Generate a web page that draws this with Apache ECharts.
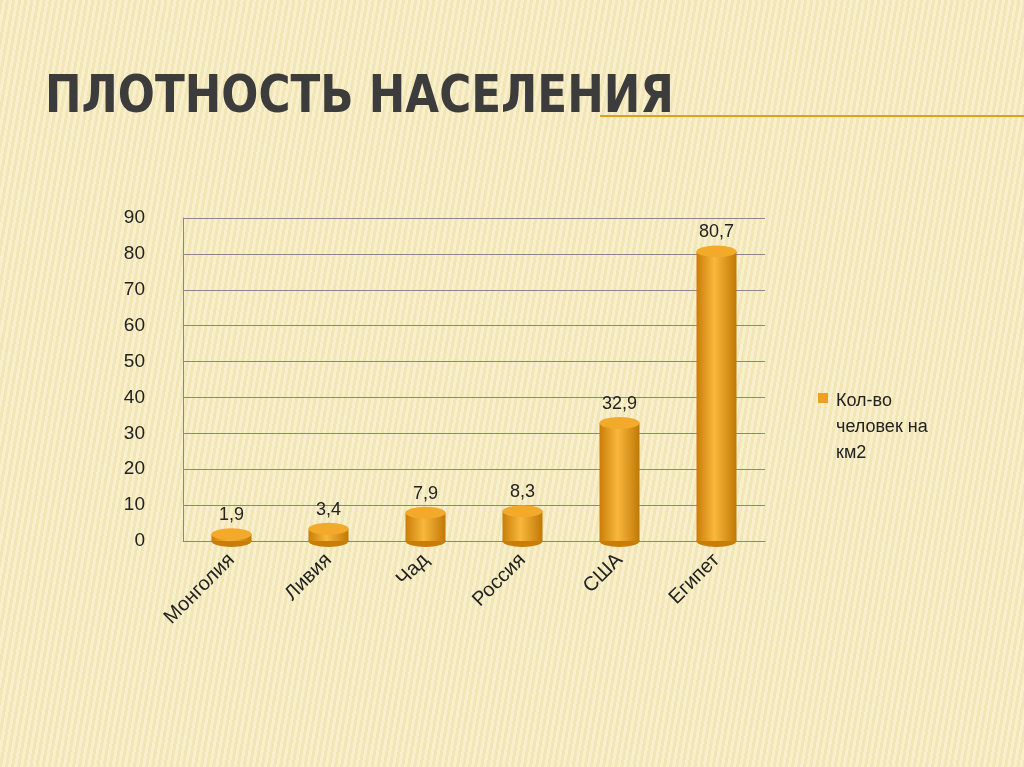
<!DOCTYPE html>
<html><head><meta charset="utf-8">
<script src="https://cdn.jsdelivr.net/npm/echarts@6/dist/echarts.min.js"></script>
<style>
html,body{margin:0;padding:0;}
body{width:1024px;height:767px;background:repeating-linear-gradient(100deg,#f3e6b6 0px,#f3e6b6 3px,#f8efcc 3px,#f8efcc 6px);}
#c{width:1024px;height:767px;}
</style></head><body><div id="c"></div>
<script>
const categories=['Монголия','Ливия','Чад','Россия','США','Египет'];
const values=[1.9,3.4,7.9,8.3,32.9,80.7];
const yTicks=[0,10,20,30,40,50,60,70,80,90];
const seriesName='Кол-во человек на км2';
const chart=echarts.init(document.getElementById('c'));
const grad=new echarts.graphic.LinearGradient(0,0,1,0,[{offset:0,color:'#c97d08'},{offset:0.45,color:'#f8b83c'},{offset:1,color:'#c17806'}]);
chart.setOption({
 graphic:[
  {type:'text',x:45,y:72,scaleX:0.84,style:{text:'ПЛОТНОСТЬ НАСЕЛЕНИЯ',font:'bold 52px "DejaVu Sans"',fill:'#3c3c3c'}},
  {type:'line',shape:{x1:600,y1:116,x2:1024,y2:116},style:{stroke:'#e0a020',lineWidth:2}},
  {type:'rect',shape:{x:818,y:393,width:10,height:10},style:{fill:'#f0a020'}},
  {type:'text',left:836,top:388,style:{text:'Кол-во\nчеловек на\nкм2',font:'18px "Liberation Sans"',fill:'#222',lineHeight:26}}
 ],
 grid:{left:183,right:259,top:218,bottom:226},
 xAxis:{type:'category',data:categories,axisTick:{show:false},axisLine:{lineStyle:{color:'#888'}},
  axisLabel:{rotate:45,fontSize:20,color:'#222',fontFamily:'Liberation Sans',margin:16}},
 yAxis:{type:'value',min:0,max:90,interval:10,axisLine:{show:true,lineStyle:{color:'#888'}},
  axisLabel:{fontSize:19,color:'#222',fontFamily:'Liberation Sans',margin:38,formatter:v=>yTicks.includes(v)?String(v):''},
  splitLine:{lineStyle:{color:'#888'}}},
 series:[
  {name:seriesName,type:'bar',data:values,barWidth:40,itemStyle:{color:grad},
   label:{show:true,position:'top',distance:10,fontSize:18,color:'#222',fontFamily:'Liberation Sans',formatter:p=>String(p.value).replace('.',',')}},
  {type:'pictorialBar',data:values,symbol:'circle',symbolSize:[40,12],symbolPosition:'end',symbolOffset:[0,'-50%'],
   itemStyle:{color:'#f3a92a'},z:3,silent:true},
  {type:'pictorialBar',data:values,symbol:'circle',symbolSize:[40,12],symbolPosition:'start',symbolOffset:[0,'50%'],
   itemStyle:{color:'#c97d08'},z:1,silent:true}
 ]
});
</script></body></html>
